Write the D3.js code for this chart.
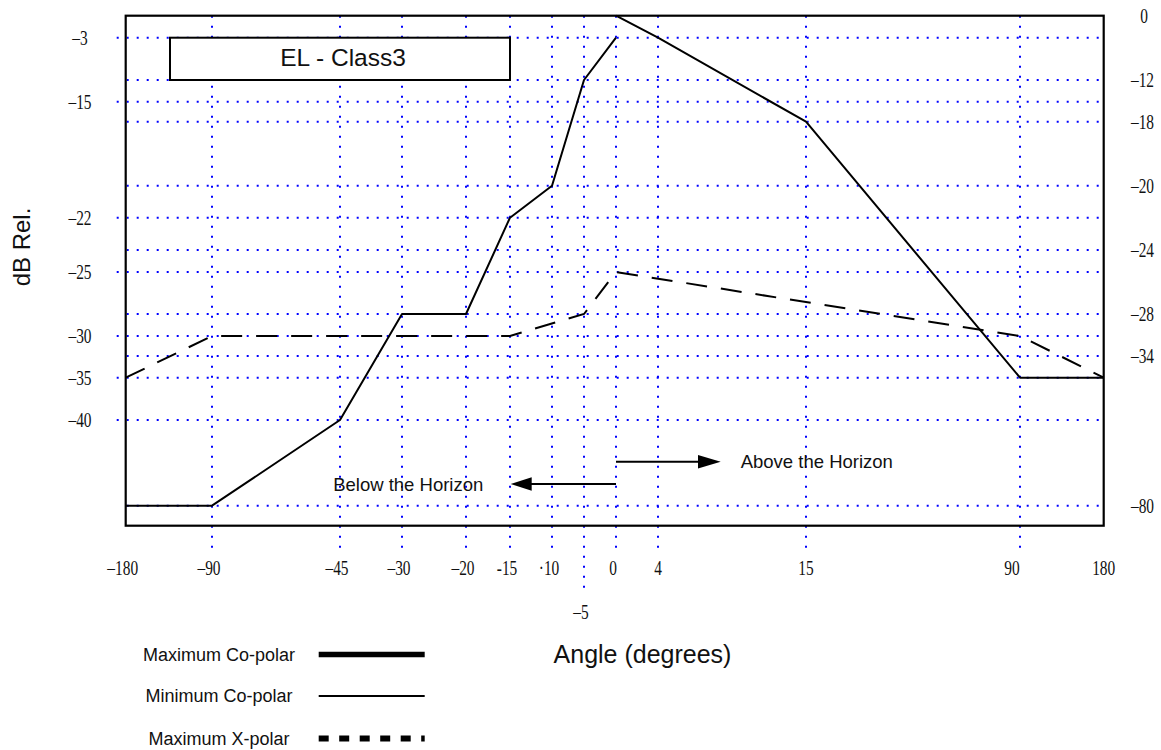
<!DOCTYPE html>
<html>
<head>
<meta charset="utf-8">
<script src="https://cdn.jsdelivr.net/npm/d3@7"></script>
<style>
  body { margin: 0; background: #fff; }
  svg { display: block; }
</style>
</head>
<body>
<svg id="chart" width="1161" height="750"></svg>
<script>
// EL - Class3 elevation radiation pattern mask

// Angle axis (degrees) and its labels
const angleTicks = [-180, -90, -45, -30, -20, -15, -10, -5, 0, 4, 15, 90, 180];
const angleLabels = ["–180", "–90", "–45", "–30", "–20", "-15", "·10", "–5", "0", "4", "15", "90", "180"];

// Level rows (dB rel.), labelled on the left and on the right
const leftLevels = [-3, -15, -22, -25, -30, -35, -40];
const rightLevels = [0, -12, -18, -20, -24, -28, -34, -80];

// Minimum co-polar (below the horizon)
const minCoAngles = [-180, -90, -45, -30, -20, -15, -10, -5, 0];
const minCoValues = [-80, -80, -40, -28, -28, -22, -20, -12, -3];

// Maximum co-polar (above the horizon)
const maxCoAngles = [0, 4, 15, 90, 180];
const maxCoValues = [0, -3, -18, -35, -35];

// Maximum cross-polar
const xPolAngles = [-180, -90, -15, -5, 0, 90, 180];
const xPolValues = [-35, -30, -30, -28, -25, -30, -35];

// ---- layout ----
const svg = d3.select("#chart");
const plot = { left: 125.7, right: 1103.7, top: 15.7, bottom: 525.7 };

// The pattern axes are schematic: each labelled angle / level sits on its own grid column / row.
const xOffsets = [0, 86.3, 214.3, 276.3, 340.3, 384.3, 426.3, 458.3, 490.3, 532.3, 680.3, 894.3, 978];
const x = d3.scaleLinear()
  .domain(angleTicks)
  .range(xOffsets.map(d => plot.left + d));

const yDomain = d3.sort([...leftLevels, ...rightLevels], (a, b) => b - a);
const yOffsets = [0, 22, 64.3, 86, 106, 170, 202, 234.3, 256.3, 298.3, 320.3, 340.3, 362, 404.3, 490];
const y = d3.scaleLinear()
  .domain(yDomain)
  .range(yOffsets.map(d => plot.top + d));

const gridColor = "#0000ff";
const gridDash = "2 8";
const gridWidth = 2;

// ---- grid ----
const grid = svg.append("g").attr("class", "grid");

// vertical grid columns (extend below the frame down to the tick labels)
grid.selectAll("line.vgrid")
  .data(angleTicks.filter(a => a !== -180 && a !== 180))
  .join("line")
  .attr("class", "vgrid")
  .attr("x1", d => x(d)).attr("x2", d => x(d))
  .attr("y1", plot.top)
  .attr("y2", d => d === -5 ? plot.bottom + 64 : plot.bottom + 22)
  .attr("stroke", gridColor)
  .attr("stroke-width", gridWidth)
  .attr("stroke-dasharray", gridDash);

// rows labelled on the left extend out to the left
grid.selectAll("line.lgrid")
  .data(leftLevels)
  .join("line")
  .attr("class", "lgrid")
  .attr("x1", plot.left - 9).attr("x2", plot.right - 4)
  .attr("y1", d => y(d)).attr("y2", d => y(d))
  .attr("stroke", gridColor)
  .attr("stroke-width", gridWidth)
  .attr("stroke-dasharray", gridDash);

// rows labelled on the right extend out to the right
grid.selectAll("line.rgrid")
  .data(rightLevels.filter(d => d !== 0))
  .join("line")
  .attr("class", "rgrid")
  .attr("x1", plot.left + 1).attr("x2", plot.right + 3)
  .attr("y1", d => y(d)).attr("y2", d => y(d))
  .attr("stroke", gridColor)
  .attr("stroke-width", gridWidth)
  .attr("stroke-dasharray", gridDash);

// ---- title box ----
svg.append("rect")
  .attr("x", 170).attr("y", y(-3))
  .attr("width", 340).attr("height", y(-12) - y(-3))
  .attr("fill", "#fff")
  .attr("stroke", "#000")
  .attr("stroke-width", 2);
svg.append("text")
  .attr("x", 343).attr("y", 66)
  .attr("text-anchor", "middle")
  .attr("font-family", "'Liberation Sans', Arial, sans-serif")
  .attr("font-size", 24.5)
  .attr("fill", "#111")
  .text("EL - Class3");

// ---- pattern lines ----
const line = d3.line().x(d => x(d[0])).y(d => y(d[1]));

svg.append("path")
  .datum(d3.zip(minCoAngles, minCoValues))
  .attr("d", line)
  .attr("fill", "none").attr("stroke", "#000").attr("stroke-width", 2)
  .attr("stroke-linejoin", "round");

svg.append("path")
  .datum(d3.zip(maxCoAngles, maxCoValues))
  .attr("d", line)
  .attr("fill", "none").attr("stroke", "#000").attr("stroke-width", 2)
  .attr("stroke-linejoin", "round");

svg.append("path")
  .datum(d3.zip(xPolAngles, xPolValues))
  .attr("d", line)
  .attr("fill", "none").attr("stroke", "#000").attr("stroke-width", 2)
  .attr("stroke-dasharray", "21 14");

// ---- frame ----
svg.append("rect")
  .attr("x", plot.left).attr("y", plot.top)
  .attr("width", plot.right - plot.left).attr("height", plot.bottom - plot.top)
  .attr("fill", "none").attr("stroke", "#000").attr("stroke-width", 2.2);

// ---- tick labels ----
const serif = "'Liberation Serif', 'Times New Roman', serif";
const squeeze = 0.77;

svg.append("g").selectAll("text")
  .data(d3.zip(angleTicks, angleLabels))
  .join("text")
  .attr("transform", d => {
    const shift = d[0] < 0 ? -3 : (d[0] === 90 ? -8 : (d[0] === 0 ? -3 : 0));
    const ty = d[0] === -5 ? 619 : 575;
    return `translate(${x(d[0]) + shift},${ty}) scale(${squeeze},1)`;
  })
  .attr("text-anchor", "middle")
  .attr("font-family", serif)
  .attr("font-size", 20)
  .attr("fill", "#111")
  .text(d => d[1]);

svg.append("g").selectAll("text")
  .data(leftLevels)
  .join("text")
  .attr("transform", d => `translate(80,${y(d) + 7}) scale(${squeeze},1)`)
  .attr("text-anchor", "middle")
  .attr("font-family", serif)
  .attr("font-size", 20)
  .attr("fill", "#111")
  .text(d => d === 0 ? "0" : "–" + Math.abs(d));

svg.append("g").selectAll("text")
  .data(rightLevels)
  .join("text")
  .attr("transform", d => `translate(${d === 0 ? 1144 : 1142.5},${y(d) + 7}) scale(${squeeze},1)`)
  .attr("text-anchor", "middle")
  .attr("font-family", serif)
  .attr("font-size", 20)
  .attr("fill", "#111")
  .text(d => d === 0 ? "0" : "–" + Math.abs(d));

// ---- axis titles ----
const sans = "'Liberation Sans', Arial, Helvetica, sans-serif";
svg.append("text")
  .attr("transform", "translate(30,247) rotate(-90)")
  .attr("text-anchor", "middle")
  .attr("font-family", sans)
  .attr("font-size", 24)
  .attr("fill", "#111")
  .text("dB Rel.");

svg.append("text")
  .attr("x", 642.5).attr("y", 663)
  .attr("text-anchor", "middle")
  .attr("font-family", sans)
  .attr("font-size", 25)
  .attr("fill", "#111")
  .text("Angle (degrees)");

// ---- horizon annotations ----
const arrowUp = 461.7, arrowDown = 484;
svg.append("line")
  .attr("x1", x(0)).attr("x2", 699).attr("y1", arrowUp).attr("y2", arrowUp)
  .attr("stroke", "#000").attr("stroke-width", 2);
svg.append("path")
  .attr("d", `M698,${arrowUp - 6.7} L720.7,${arrowUp} L698,${arrowUp + 6.7} Z`)
  .attr("fill", "#000");
svg.append("text")
  .attr("x", 740.7).attr("y", 468.3)
  .attr("font-family", sans).attr("font-size", 18.5).attr("fill", "#111")
  .text("Above the Horizon");

svg.append("line")
  .attr("x1", x(0)).attr("x2", 531).attr("y1", arrowDown).attr("y2", arrowDown)
  .attr("stroke", "#000").attr("stroke-width", 2);
svg.append("path")
  .attr("d", `M531.7,${arrowDown - 6.7} L510.7,${arrowDown} L531.7,${arrowDown + 6.7} Z`)
  .attr("fill", "#000");
svg.append("text")
  .attr("x", 483.3).attr("y", 490.7)
  .attr("text-anchor", "end")
  .attr("font-family", sans).attr("font-size", 18.5).attr("fill", "#111")
  .text("Below the Horizon");

// ---- legend ----
const legendItems = ["Maximum Co-polar", "Minimum Co-polar", "Maximum X-polar"];
const legendRows = [654.5, 696, 738.5];
const legendStyles = [
  { width: 5.5, dash: null },
  { width: 1.8, dash: null },
  { width: 6, dash: "10 10.5" }
];
const legend = svg.append("g");
legendItems.forEach((name, i) => {
  legend.append("text")
    .attr("x", 219).attr("y", legendRows[i] + 6.2)
    .attr("text-anchor", "middle")
    .attr("font-family", sans).attr("font-size", 18).attr("fill", "#111")
    .text(name);
  legend.append("line")
    .attr("x1", 318.7).attr("x2", 424.7)
    .attr("y1", legendRows[i]).attr("y2", legendRows[i])
    .attr("stroke", "#000")
    .attr("stroke-width", legendStyles[i].width)
    .attr("stroke-dasharray", legendStyles[i].dash);
});
</script>
</body>
</html>
